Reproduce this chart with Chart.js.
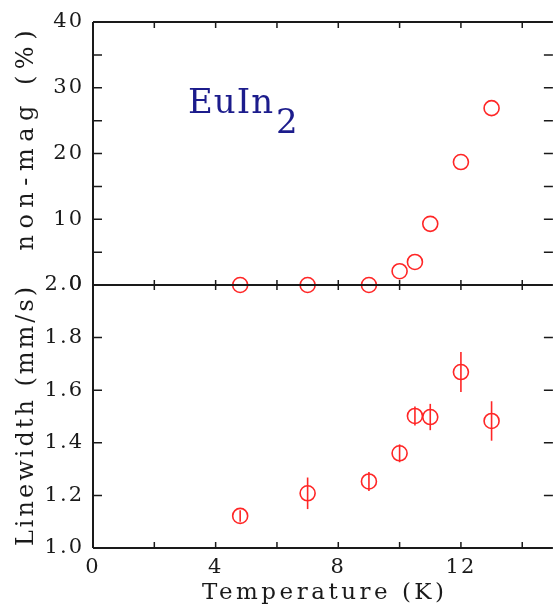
<!DOCTYPE html>
<html>
<head>
<meta charset="utf-8">
<script src="https://cdn.jsdelivr.net/npm/chart.js@4/dist/chart.umd.min.js"></script>
<style>
  html, body { margin: 0; padding: 0; background: #fff; overflow: hidden; }
  #moldura { width: 554px; height: 608px; overflow: hidden; }
  canvas { display: block; }
</style>
</head>
<body>
<div id="moldura"><canvas id="grafico" width="562" height="608"></canvas></div>
<script>
// === Dados ===
const temperaturas = [4.8, 7, 9, 10, 10.5, 11, 12, 13];
const naoMagnetico = [0, 0, 0, 2.1, 3.5, 9.3, 18.7, 26.9];
const larguraLinha = [1.122, 1.208, 1.253, 1.36, 1.502, 1.498, 1.669, 1.483];
const erroLargura = [0.022, 0.06, 0.036, 0.034, 0.036, 0.05, 0.076, 0.075];

// === Ticks ===
const ticksX = [0, 4, 8, 12];
const marcasX = [0, 2, 4, 6, 8, 10, 12, 14];
const ticksTopo = [0, 10, 20, 30, 40];
const marcasTopo = [5, 10, 15, 20, 25, 30, 35];
const ticksBaixo = [1.0, 1.2, 1.4, 1.6, 1.8, 2.0];
const marcasBaixo = [1.2, 1.4, 1.6, 1.8];

// === Textos ===
const tituloX = 'Temperature (K)';
const tituloTopo = 'non-mag (%)';
const tituloBaixo = 'Linewidth (mm/s)';
const rotulo = 'EuIn';
const indice = '2';

const vermelho = '#ff2626';
const preto = '#1a1a1a';
const fonte = 'DejaVu Serif';

// texto com espacamento proprio, centrado em (cx, cy)
function textoEspacado(ctx, texto, cx, cy, tamanho, espaco, girar) {
  ctx.save();
  ctx.font = `${tamanho}px "${fonte}"`;
  ctx.letterSpacing = espaco + 'px';
  ctx.fillStyle = preto;
  ctx.textAlign = 'left';
  ctx.textBaseline = 'alphabetic';
  const w = ctx.measureText(texto).width - espaco;
  ctx.translate(cx, cy);
  if (girar) ctx.rotate(-Math.PI / 2);
  ctx.fillText(texto, -w / 2, 0);
  ctx.restore();
}

// === Plugin: moldura, marcas internas, barras de erro e titulos ===
const molduraPlugin = {
  id: 'moldura',
  beforeDraw(chart) {
    chart.ctx.letterSpacing = '2px';
  },
  afterDatasetsDraw(chart) {
    const ctx = chart.ctx;
    const x = chart.scales.x;
    const yT = chart.scales.yTopo;
    const yB = chart.scales.yBaixo;

    // barras de erro
    ctx.save();
    ctx.strokeStyle = vermelho;
    ctx.lineWidth = 1.6;
    temperaturas.forEach((t, i) => {
      const px = x.getPixelForValue(t);
      ctx.beginPath();
      ctx.moveTo(px, yB.getPixelForValue(larguraLinha[i] - erroLargura[i]));
      ctx.lineTo(px, yB.getPixelForValue(larguraLinha[i] + erroLargura[i]));
      ctx.stroke();
    });
    ctx.restore();

    // moldura (a borda direita fica fora da janela)
    ctx.save();
    ctx.strokeStyle = preto;
    ctx.lineWidth = 2;
    const esq = x.left, dir = x.right;
    const topo = yT.top, meio = yT.bottom, base = yB.bottom;
    ctx.beginPath();
    ctx.moveTo(esq, topo); ctx.lineTo(dir, topo);
    ctx.moveTo(esq, meio); ctx.lineTo(dir, meio);
    ctx.moveTo(esq, base); ctx.lineTo(dir, base);
    ctx.moveTo(esq, topo); ctx.lineTo(esq, base);
    ctx.stroke();

    // marcas internas
    ctx.lineWidth = 1.5;
    ctx.beginPath();
    marcasX.forEach(v => {
      const px = x.getPixelForValue(v);
      ctx.moveTo(px, topo); ctx.lineTo(px, topo + 6);
      ctx.moveTo(px, meio - 5); ctx.lineTo(px, meio + 5);
      ctx.moveTo(px, base); ctx.lineTo(px, base - 6);
    });
    marcasTopo.forEach(v => {
      const py = yT.getPixelForValue(v);
      ctx.moveTo(esq, py); ctx.lineTo(esq + 9, py);
      ctx.moveTo(dir, py); ctx.lineTo(dir - 9, py);
    });
    marcasBaixo.forEach(v => {
      const py = yB.getPixelForValue(v);
      ctx.moveTo(esq, py); ctx.lineTo(esq + 9, py);
      ctx.moveTo(dir, py); ctx.lineTo(dir - 9, py);
    });
    ctx.stroke();
    ctx.restore();

    // titulos dos eixos
    textoEspacado(ctx, tituloX, (x.left + x.right) / 2, 599, 23, 3.5, false);
    textoEspacado(ctx, tituloTopo, 33, (yT.top + yT.bottom) / 2 - 13, 24, 6.5, true);
    textoEspacado(ctx, tituloBaixo, 33, (yB.top + yB.bottom) / 2, 24, 3, true);

    // rotulo do composto
    ctx.save();
    ctx.letterSpacing = '1px';
    ctx.fillStyle = '#1c1c8c';
    ctx.font = `34px "${fonte}"`;
    ctx.textBaseline = 'alphabetic';
    ctx.textAlign = 'left';
    ctx.fillText(rotulo, 188, 113);
    const w = ctx.measureText(rotulo).width;
    ctx.fillText(indice, 188 + w + 2, 133);
    ctx.restore();
  }
};

// === Grafico ===
const ctx = document.getElementById('grafico').getContext('2d');

new Chart(ctx, {
  type: 'scatter',
  data: {
    datasets: [
      {
        label: 'non-mag',
        data: temperaturas.map((t, i) => ({ x: t, y: naoMagnetico[i] })),
        yAxisID: 'yTopo',
        borderColor: vermelho,
        backgroundColor: 'rgba(0,0,0,0)',
        borderWidth: 1.6,
        pointRadius: 7.5,
        clip: false
      },
      {
        label: 'Linewidth',
        data: temperaturas.map((t, i) => ({ x: t, y: larguraLinha[i] })),
        yAxisID: 'yBaixo',
        borderColor: vermelho,
        backgroundColor: 'rgba(0,0,0,0)',
        borderWidth: 1.6,
        pointRadius: 7.5,
        clip: false
      }
    ]
  },
  options: {
    responsive: false,
    animation: false,
    devicePixelRatio: 1,
    layout: { padding: { top: 22, right: 5, bottom: 0, left: 0 } },
    plugins: {
      legend: { display: false },
      tooltip: { enabled: false }
    },
    scales: {
      x: {
        type: 'linear',
        position: 'bottom',
        min: 0,
        max: 15,
        grid: { display: false, drawTicks: false },
        border: { display: false },
        afterBuildTicks: s => { s.ticks = ticksX.map(v => ({ value: v })); },
        afterFit: s => { s.height = 60; },
        ticks: { color: preto, padding: 7, font: { family: fonte, size: 21 } }
      },
      // o primeiro da pilha fica embaixo
      yBaixo: {
        type: 'linear',
        position: 'left',
        stack: 'painel',
        stackWeight: 1,
        min: 1.0,
        max: 2.0,
        grid: { display: false, drawTicks: false },
        border: { display: false },
        afterBuildTicks: s => { s.ticks = ticksBaixo.map(v => ({ value: v })); },
        afterFit: s => { s.width = 93; },
        ticks: {
          color: preto,
          padding: 9,
          font: { family: fonte, size: 21 },
          callback: v => Number(v).toFixed(1)
        }
      },
      yTopo: {
        type: 'linear',
        position: 'left',
        stack: 'painel',
        stackWeight: 1,
        min: 0,
        max: 40,
        grid: { display: false, drawTicks: false },
        border: { display: false },
        afterBuildTicks: s => { s.ticks = ticksTopo.map(v => ({ value: v })); },
        afterFit: s => { s.width = 93; },
        ticks: { color: preto, padding: 9, font: { family: fonte, size: 21 } }
      }
    }
  },
  plugins: [molduraPlugin]
});
</script>
</body>
</html>
